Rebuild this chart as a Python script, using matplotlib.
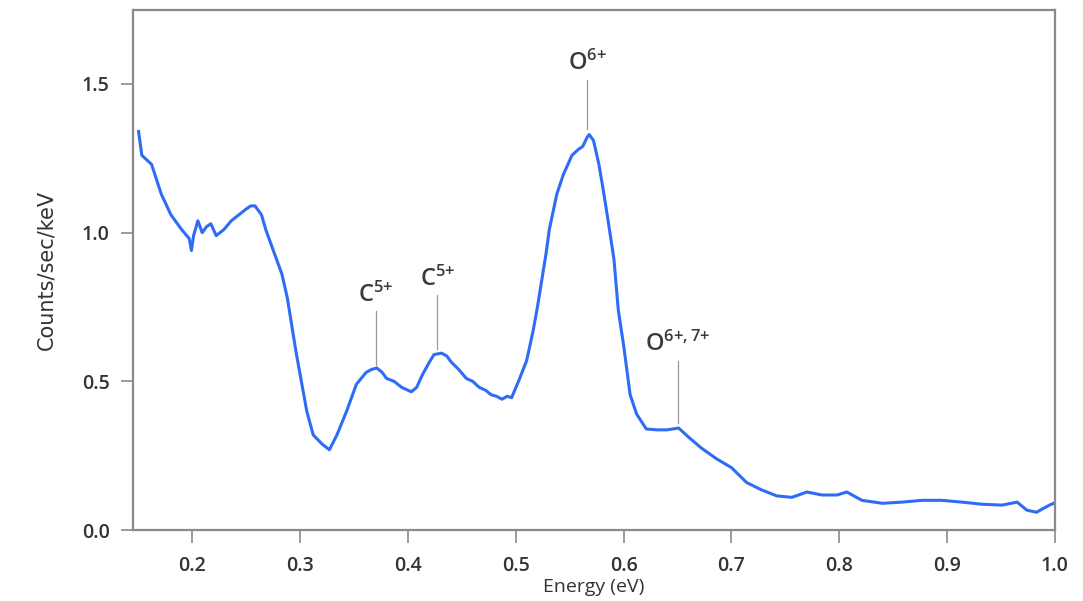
import matplotlib.pyplot as plt

plt.rcParams['mathtext.fontset'] = 'custom'
plt.rcParams['mathtext.rm'] = 'Open Sans:semibold'
plt.rcParams['mathtext.it'] = 'Open Sans:semibold'

# spectrum
energy = [0.150, 0.153, 0.162, 0.171, 0.180, 0.190, 0.197, 0.199, 0.201, 0.205, 0.209,
          0.213, 0.217, 0.222, 0.229, 0.236, 0.243, 0.250, 0.254, 0.258, 0.264, 0.268,
          0.273, 0.278, 0.283, 0.288, 0.292, 0.296, 0.300, 0.306, 0.312, 0.320, 0.327,
          0.334, 0.343, 0.352, 0.361, 0.366, 0.371, 0.376, 0.380, 0.387, 0.394, 0.403,
          0.408, 0.413, 0.419, 0.424, 0.431, 0.436, 0.440, 0.447, 0.454, 0.460, 0.466,
          0.472, 0.477, 0.482, 0.487, 0.492, 0.496, 0.503, 0.510, 0.516, 0.520, 0.524,
          0.528, 0.531, 0.538, 0.544, 0.552, 0.558, 0.562, 0.566, 0.568, 0.572, 0.577,
          0.581, 0.586, 0.591, 0.595, 0.600, 0.606, 0.612, 0.621, 0.631, 0.640, 0.651,
          0.661, 0.672, 0.686, 0.700, 0.714, 0.728, 0.742, 0.756, 0.770, 0.784, 0.798,
          0.807, 0.821, 0.840, 0.858, 0.877, 0.895, 0.914, 0.932, 0.951, 0.965, 0.974,
          0.983, 0.995, 0.999]
counts = [1.34, 1.26, 1.23, 1.13, 1.06, 1.01, 0.98, 0.94, 0.99, 1.04, 1.00,
          1.02, 1.03, 0.99, 1.01, 1.04, 1.06, 1.08, 1.09, 1.09, 1.06, 1.01,
          0.96, 0.91, 0.86, 0.78, 0.69, 0.60, 0.52, 0.40, 0.32, 0.29, 0.27,
          0.32, 0.40, 0.49, 0.53, 0.54, 0.545, 0.53, 0.51, 0.50, 0.48, 0.465,
          0.48, 0.52, 0.56, 0.59, 0.595, 0.585, 0.565, 0.54, 0.51, 0.50, 0.48,
          0.47, 0.455, 0.45, 0.44, 0.45, 0.445, 0.505, 0.57, 0.67, 0.75, 0.84,
          0.93, 1.01, 1.13, 1.195, 1.26, 1.28, 1.29, 1.32, 1.33, 1.31, 1.23,
          1.145, 1.03, 0.91, 0.74, 0.62, 0.455, 0.39, 0.34, 0.337, 0.337, 0.343,
          0.31, 0.276, 0.24, 0.21, 0.16, 0.135, 0.115, 0.11, 0.128, 0.118, 0.118,
          0.128, 0.10, 0.09, 0.094, 0.10, 0.10, 0.094, 0.087, 0.084, 0.094, 0.067,
          0.06, 0.084, 0.09]

# peak labels: text, x of marker, line bottom, line top
peak_names = [r"C$^{5{+}}$", r"C$^{5{+}}$", r"O$^{6{+}}$", r"O$^{6{+},7{+}}$"]
peak_x = [0.370, 0.427, 0.566, 0.650]
peak_lo = [0.555, 0.610, 1.35, 0.36]
peak_hi = [0.735, 0.79, 1.515, 0.57]

fig = plt.figure(figsize=(10.83, 6.01), dpi=100)
ax = fig.add_axes([0.123, 0.118, 0.851, 0.866])

ax.plot(energy, counts, color="#2f6cf5", lw=2.2)

for name, x, lo, hi in zip(peak_names, peak_x, peak_lo, peak_hi):
    ax.plot([x, x], [lo, hi], color="#9a9a9a", lw=0.9)
    ax.text(x, hi + 0.012, name, ha="center", va="bottom", fontsize=17,
            color="#3a3a3a", family="Open Sans", weight="semibold")

ax.set_xlim(0.145, 1.0)
ax.set_ylim(0, 1.75)
ax.set_xticks([0.2, 0.3, 0.4, 0.5, 0.6, 0.7, 0.8, 0.9, 1.0])
ax.set_yticks([0.0, 0.5, 1.0, 1.5])
ax.xaxis.set_major_formatter(plt.FormatStrFormatter("%.1f"))
ax.yaxis.set_major_formatter(plt.FormatStrFormatter("%.1f"))

for s in ax.spines.values():
    s.set_color("#8a8a8a")
    s.set_linewidth(1.6)
ax.tick_params(direction="out", length=9, width=1.2, color="#8a8a8a",
               labelsize=14, labelcolor="#333333")
ax.tick_params(axis="x", pad=10)
ax.tick_params(axis="y", pad=8)
for lbl in ax.get_xticklabels() + ax.get_yticklabels():
    lbl.set_family("Open Sans")
    lbl.set_weight("semibold")

ax.set_xlabel("Energy (eV)", fontsize=14, color="#333333", family="Open Sans", labelpad=1)
ax.set_ylabel("Counts/sec/keV", fontsize=15, color="#333333", family="Liberation Sans Narrow",
              labelpad=18)

fig.savefig("out.png", dpi=100)
